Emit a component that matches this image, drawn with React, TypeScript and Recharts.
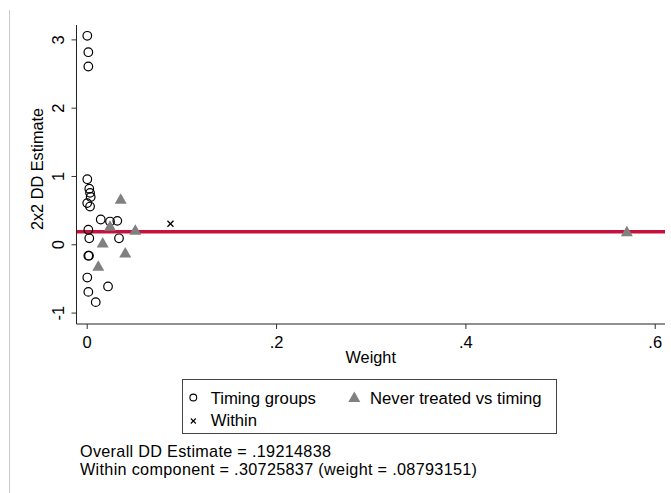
import { ScatterChart, Scatter, XAxis, YAxis, ReferenceLine } from "recharts";

// 2x2 DD estimates vs weight (Bacon decomposition)
const timingWeight = [0.0001, 0.0012, 0.0012, 0.0001, 0.0022, 0.003, 0.0037, 0.0, 0.003, 0.0143, 0.0241, 0.0318, 0.0012, 0.0022, 0.0336, 0.0012, 0.0019, 0.0001, 0.0012, 0.022, 0.009];
const timingEstimate = [3.06, 2.82, 2.61, 0.96, 0.82, 0.76, 0.70, 0.61, 0.56, 0.37, 0.34, 0.35, 0.22, 0.095, 0.095, -0.16, -0.16, -0.48, -0.69, -0.61, -0.84];

const neverWeight = [0.0354, 0.0241, 0.0508, 0.0164, 0.0402, 0.0117, 0.57];
const neverEstimate = [0.67, 0.275, 0.217, 0.03, -0.115, -0.31, 0.195];

const withinWeight = [0.08793151];
const withinEstimate = [0.30725837];

const overallEstimate = 0.19214838;

const xTicks = [0, 0.2, 0.4, 0.6];
const yTicks = [-1, 0, 1, 2, 3];

const timingData = timingWeight.map((w, i) => ({ w, e: timingEstimate[i] }));
const neverData = neverWeight.map((w, i) => ({ w, e: neverEstimate[i] }));
const withinData = withinWeight.map((w, i) => ({ w, e: withinEstimate[i] }));

const FONT = "'Liberation Sans', Arial, Helvetica, sans-serif";
const RED = "#c5123c";
const GRAY = "#808080";

const fmt = (v: number) => (v === 0 ? "0" : String(v).replace(/^0\./, ".").replace(/^-0\./, "-."));

const Circle = (p: any) => (
  <circle cx={p.cx} cy={p.cy} r={4.3} fill="none" stroke="#000" strokeWidth={1.2} />
);
const Triangle = (p: any) => (
  <polygon
    points={`${p.cx},${p.cy - 5.7} ${p.cx - 6},${p.cy + 4.8} ${p.cx + 6},${p.cy + 4.8}`}
    fill={GRAY}
  />
);
const Cross = (p: any) => (
  <g stroke="#000" strokeWidth={1.3}>
    <line x1={p.cx - 3} y1={p.cy - 3} x2={p.cx + 3} y2={p.cy + 3} />
    <line x1={p.cx - 3} y1={p.cy + 3} x2={p.cx + 3} y2={p.cy - 3} />
  </g>
);

const XTick = (p: any) => (
  <text x={p.x} y={p.y + 17} textAnchor="middle" fontSize={16.5} fontFamily={FONT} fill="#000">
    {fmt(p.payload.value)}
  </text>
);
const YTick = (p: any) => (
  <g transform={`translate(${p.x - 11.5},${p.y}) rotate(-90)`}>
    <text x={0} y={0} dy="0.35em" textAnchor="middle" fontSize={16.5} fontFamily={FONT} fill="#000">
      {String(p.payload.value)}
    </text>
  </g>
);

export default function App() {
  return (
    <div style={{ position: "absolute", left: 0, top: 0, width: 671, height: 493, background: "#fff", overflow: "hidden" }}>
      <ScatterChart width={671} height={493} margin={{ top: 25, right: 6, bottom: 139, left: 36.5 }}>
        <XAxis
          type="number"
          dataKey="w"
          domain={[-0.0113, 0.6103]}
          ticks={xTicks}
          allowDataOverflow
          height={30}
          tickSize={5}
          axisLine={{ stroke: "#222", strokeWidth: 1 }}
          tickLine={{ stroke: "#333" }}
          tick={<XTick />}
        />
        <YAxis
          type="number"
          dataKey="e"
          domain={[-1.16, 3.218]}
          ticks={yTicks}
          allowDataOverflow
          width={40}
          tickSize={5}
          axisLine={{ stroke: "#222", strokeWidth: 1 }}
          tickLine={{ stroke: "#333" }}
          tick={<YTick />}
        />
        <ReferenceLine y={overallEstimate} stroke={RED} strokeWidth={3.5} />
        <Scatter data={timingData} shape={Circle} isAnimationActive={false} />
        <Scatter data={neverData} shape={Triangle} isAnimationActive={false} />
        <Scatter data={withinData} shape={Cross} isAnimationActive={false} />
      </ScatterChart>

      <svg width={671} height={493} style={{ position: "absolute", left: 0, top: 0, pointerEvents: "none" }}>
        <line x1={9.5} y1={10} x2={9.5} y2={493} stroke="#c8c8c8" strokeWidth={1} />
        <text
          transform="translate(37.5,169) rotate(-90)"
          dy="0.35em"
          textAnchor="middle"
          fontSize={16.3}
          fontFamily={FONT}
        >
          2x2 DD Estimate
        </text>
        <text x={370.75} y={363} textAnchor="middle" fontSize={16.3} fontFamily={FONT}>
          Weight
        </text>

        <rect x={182.5} y={379.5} width={374} height={54} fill="none" stroke="#444" strokeWidth={1} />
        <circle cx={193.3} cy={397.5} r={3.4} fill="none" stroke="#000" strokeWidth={1.1} />
        <text x={210.7} y={404} fontSize={16.7} fontFamily={FONT}>Timing groups</text>
        <polygon points="354.3,391.5 348.3,402 360.3,402" fill={GRAY} />
        <text x={370} y={404} fontSize={16.7} fontFamily={FONT}>Never treated vs timing</text>
        <g stroke="#000" strokeWidth={1.1}>
          <line x1={190.8} y1={418.5} x2={195.8} y2={423.5} />
          <line x1={190.8} y1={423.5} x2={195.8} y2={418.5} />
        </g>
        <text x={210.7} y={426} fontSize={16.7} fontFamily={FONT}>Within</text>

        <text x={80} y={457} fontSize={16.2} fontFamily={FONT} textLength={251} lengthAdjust="spacing">
          Overall DD Estimate = .19214838
        </text>
        <text x={80} y={475} fontSize={16.2} fontFamily={FONT} textLength={397} lengthAdjust="spacing">
          Within component = .30725837 (weight = .08793151)
        </text>
      </svg>
    </div>
  );
}
